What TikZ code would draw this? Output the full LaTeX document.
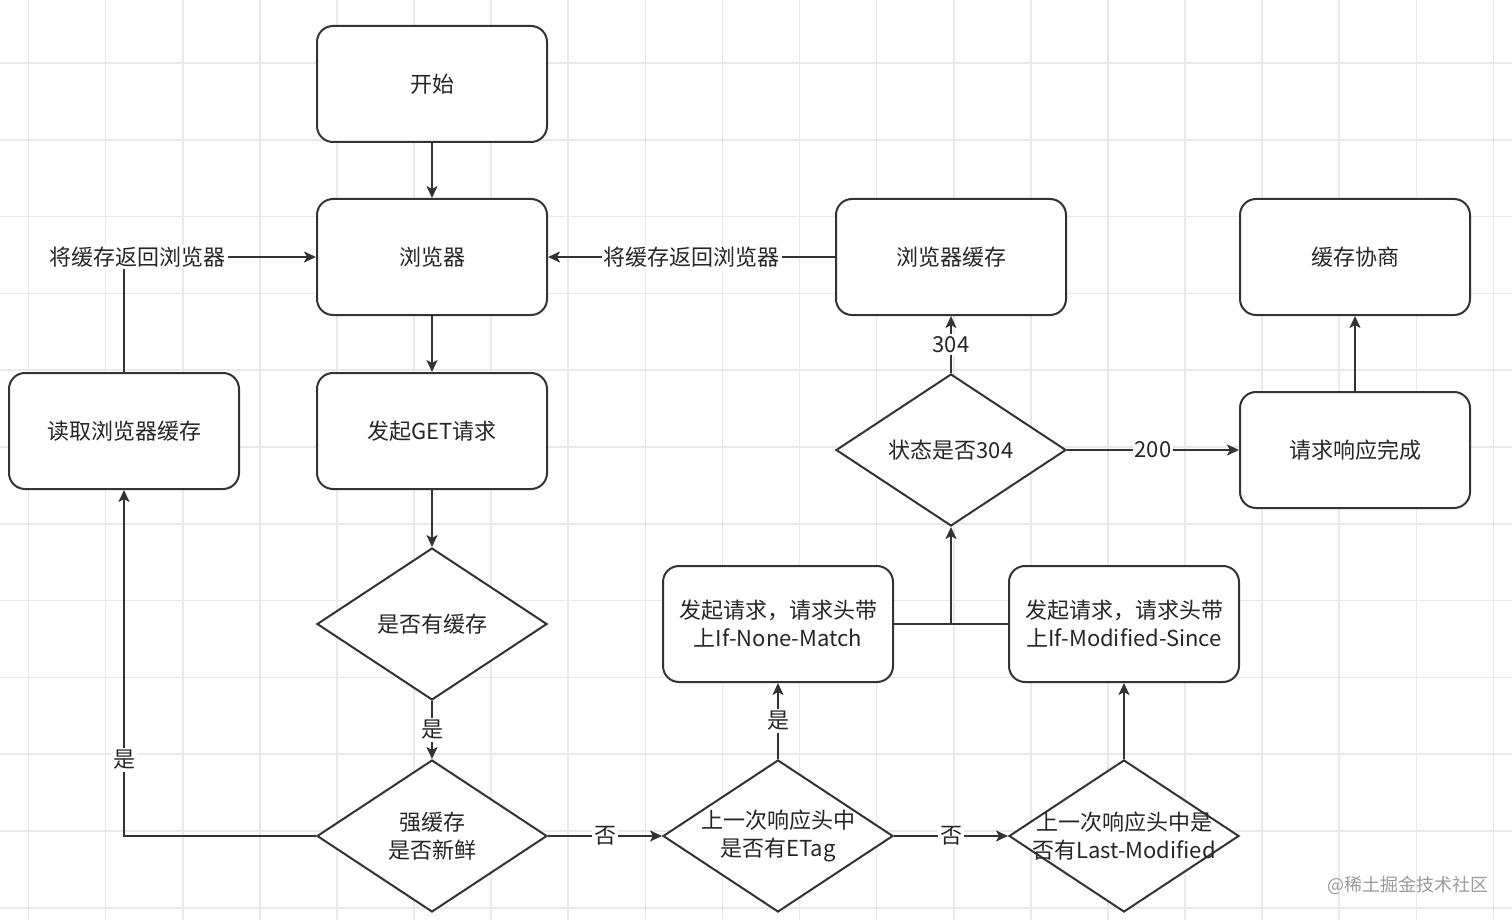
\documentclass[tikz,border=0pt]{standalone}
\usepackage{fontspec}
\setmainfont{Noto Sans CJK SC}
\usetikzlibrary{shapes.geometric,arrows.meta}
\definecolor{gridc}{HTML}{E9E9E9}
\definecolor{linec}{HTML}{333333}
\definecolor{textc}{HTML}{262626}
\definecolor{wmc}{HTML}{9A9A9A}
\tikzset{
  box/.style={draw=linec, line width=1pt, rounded corners=8pt, fill=white,
    minimum width=115pt, minimum height=58pt, inner sep=0pt},
  dia/.style={draw=linec, line width=1pt, diamond, fill=white, aspect=1.513,
    minimum width=115pt, minimum height=76pt, inner sep=0pt},
  txt/.style={text=textc, font=\fontsize{11pt}{14pt}\selectfont, align=center, inner sep=0pt},
  lab/.style={text=textc, font=\fontsize{11pt}{14pt}\selectfont, fill=white, inner sep=1pt},
  conn/.style={draw=linec, line width=1pt},
  arr/.style={conn, -{Stealth[length=6pt,width=5.5pt,inset=1.5pt]}},
}
\begin{document}
\begin{tikzpicture}[x=0.5pt,y=-0.5pt]
\useasboundingbox[fill=white] (0,0) rectangle (1512,920);
% grid
\foreach \i in {0,...,19} \draw[gridc, line width=0.8pt] ({28.5+77.1*\i},0) -- ({28.5+77.1*\i},920);
\foreach \j in {0,...,11} \draw[gridc, line width=0.8pt] (0,{63+76.8*\j}) -- (1512,{63+76.8*\j});

% nodes
\node[box] (start) at (432,84) {};
\node[txt] (start-t) at (start) {开始};
\node[box] (browser) at (432,257) {};
\node[txt] (browser-t) at (browser) {浏览器};
\node[box] (get) at (432,431) {};
\node[txt] (get-t) at (get) {发起GET请求};
\node[dia] (hascache) at (432,624) {};
\node[txt] (hascache-t) at (hascache) {是否有缓存};
\node[dia] (fresh) at (432,836) {};
\node[txt] (fresh-t) at (fresh) {强缓存\\是否新鲜};
\node[box] (read) at (124,431) {};
\node[txt] (read-t) at (read) {读取浏览器缓存};
\node[dia] (etag) at (778,836) {};
\node[txt] (etag-t) at (etag) {上一次响应头中\\是否有ETag};
\node[dia] (lm) at (1124,836) {};
\node[txt] (lm-t) at (lm) {上一次响应头中是\\否有Last-Modified};
\node[box] (inm) at (778,624) {};
\node[txt] (inm-t) at (inm) {发起请求，请求头带\\上If-None-Match};
\node[box] (ims) at (1124,624) {};
\node[txt] (ims-t) at (ims) {发起请求，请求头带\\上If-Modified-Since};
\node[dia] (s304) at (951,450) {};
\node[txt] (s304-t) at (s304) {状态是否304};
\node[box] (bcache) at (951,257) {};
\node[txt] (bcache-t) at (bcache) {浏览器缓存};
\node[box] (nego) at (1355,257) {};
\node[txt] (nego-t) at (nego) {缓存协商};
\node[box] (done) at (1355,450) {};
\node[txt] (done-t) at (done) {请求响应完成};

% connectors
\draw[arr] (start) -- (browser);
\draw[arr] (browser) -- (get);
\draw[arr] (get) -- (hascache);
\draw[arr] (hascache) -- node[lab] {是} (fresh);
\draw[arr] (fresh.west) -| node[lab, pos=0.61] {是} (read.south);
\draw[arr] (read.north) |- node[lab, pos=0.536] {将缓存返回浏览器} (browser.west);
\draw[arr] (bcache.west) -- node[lab] {将缓存返回浏览器} (browser.east);
\draw[arr] (fresh.east) -- node[lab] {否} (etag.west);
\draw[arr] (etag.north) -- node[lab] {是} (inm.south);
\draw[arr] (etag.east) -- node[lab] {否} (lm.west);
\draw[arr] (lm.north) -- (ims.south);
\coordinate (join) at (inm.east -| s304.south);
\draw[conn] (inm.east) -- (ims.west);
\draw[arr] (join) -- (s304.south);
\draw[arr] (s304.north) -- node[lab] {304} (bcache.south);
\draw[arr] (s304.east) -- node[lab] {200} (done.west);
\draw[arr] (done.north) -- (nego.south);

% watermark
\node[text=wmc, font=\fontsize{9pt}{11pt}\selectfont, inner sep=0pt] (wm) at (1408,885) {@稀土掘金技术社区};
\end{tikzpicture}
\end{document}
